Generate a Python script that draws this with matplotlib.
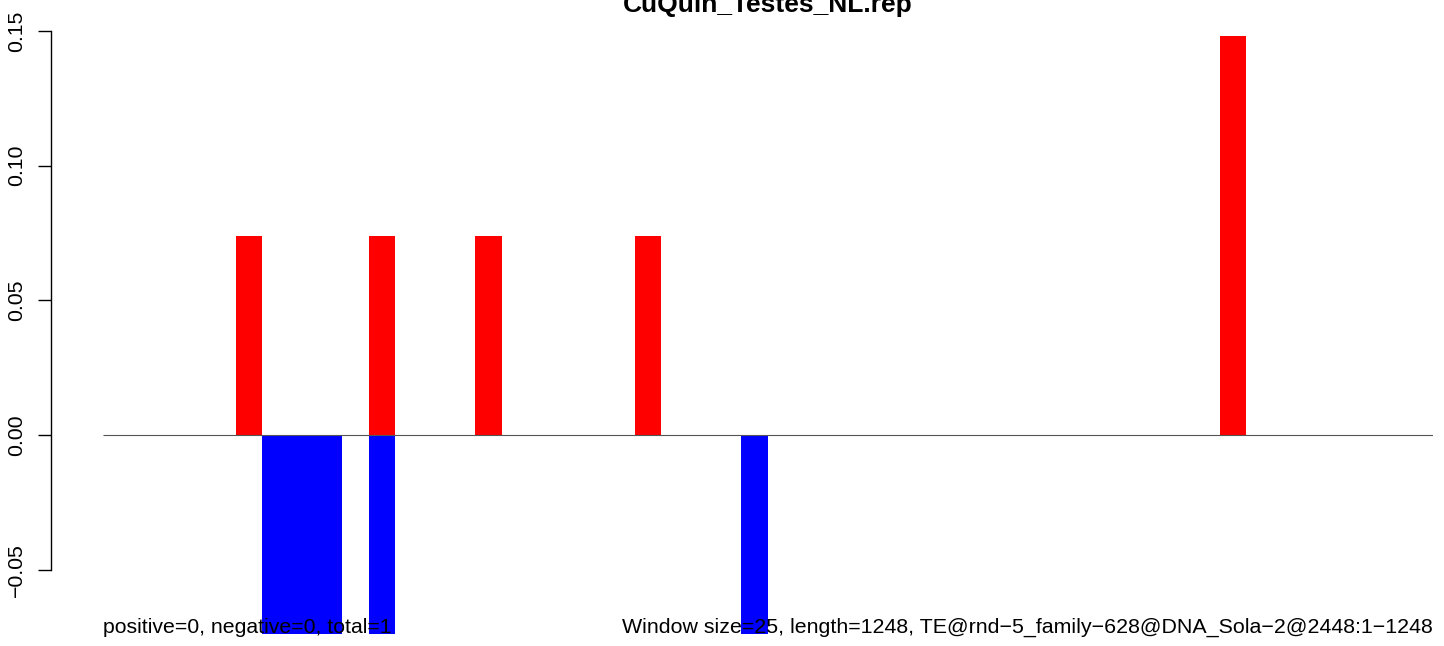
import matplotlib
matplotlib.use("Agg")
import matplotlib.pyplot as plt

plt.rcParams["font.family"] = ["Liberation Sans", "DejaVu Sans"]

# ---------- DATA ----------
title = "CuQuin_Testes_NL.rep"
n_windows = 50
red_windows = [5, 10, 14, 20, 42]
red_values = [0.074, 0.074, 0.074, 0.074, 0.148]
blue_windows = [6, 7, 8, 10, 24]
blue_values = [-0.074, -0.074, -0.074, -0.074, -0.074]
y_ticks = [-0.05, 0.00, 0.05, 0.10, 0.15]
y_tick_labels = ["\u22120.05", "0.00", "0.05", "0.10", "0.15"]
left_note = "positive=0, negative=0, total=1"
right_note = ("Window size=25, length=1248, "
              "TE@rnd\u22125_family\u2212628@DNA_Sola\u22122@2448:1\u22121248")

# ---------- FIGURE ----------
W, H = 1444, 646
fig = plt.figure(figsize=(W / 100, H / 100), dpi=100)

ax_left, ax_right = 50.5, 1432.7
ax = fig.add_axes([ax_left / W, 0, (ax_right - ax_left) / W, 1])

bar_px = (ax_right - 102.7) / n_windows
ax.set_xlim(-(102.7 - ax_left) / bar_px, n_windows)
ax.set_ylim(-211 / 2693.3, 435 / 2693.3)

ax.bar(red_windows, red_values, width=1, align="edge", color="#ff0000", linewidth=0)
ax.bar(blue_windows, blue_values, width=1, align="edge", color="#0000ff", linewidth=0)
ax.hlines(0, 0, n_windows, color="#555555", linewidth=0.8)

for side in ["top", "right", "bottom"]:
    ax.spines[side].set_visible(False)
ax.spines["left"].set_bounds(-0.05, 0.15)
ax.spines["left"].set_linewidth(1.0)
ax.set_xticks([])
ax.set_yticks(y_ticks)
ax.set_yticklabels(y_tick_labels, rotation=90, va="center", fontsize=15.3)
ax.tick_params(axis="y", length=9.6, width=1.0, pad=8)
ax.patch.set_visible(False)

# ---------- TEXT ----------
fig.text(767.5 / W, 634 / H, title, ha="center", va="baseline",
         fontsize=19, fontweight="bold")
fig.text(102.7 / W, 13 / H, left_note, ha="left", va="baseline", fontsize=15.3)
fig.text(ax_right / W, 13 / H, right_note, ha="right", va="baseline", fontsize=15.4)

fig.savefig("out.png", dpi=100)
